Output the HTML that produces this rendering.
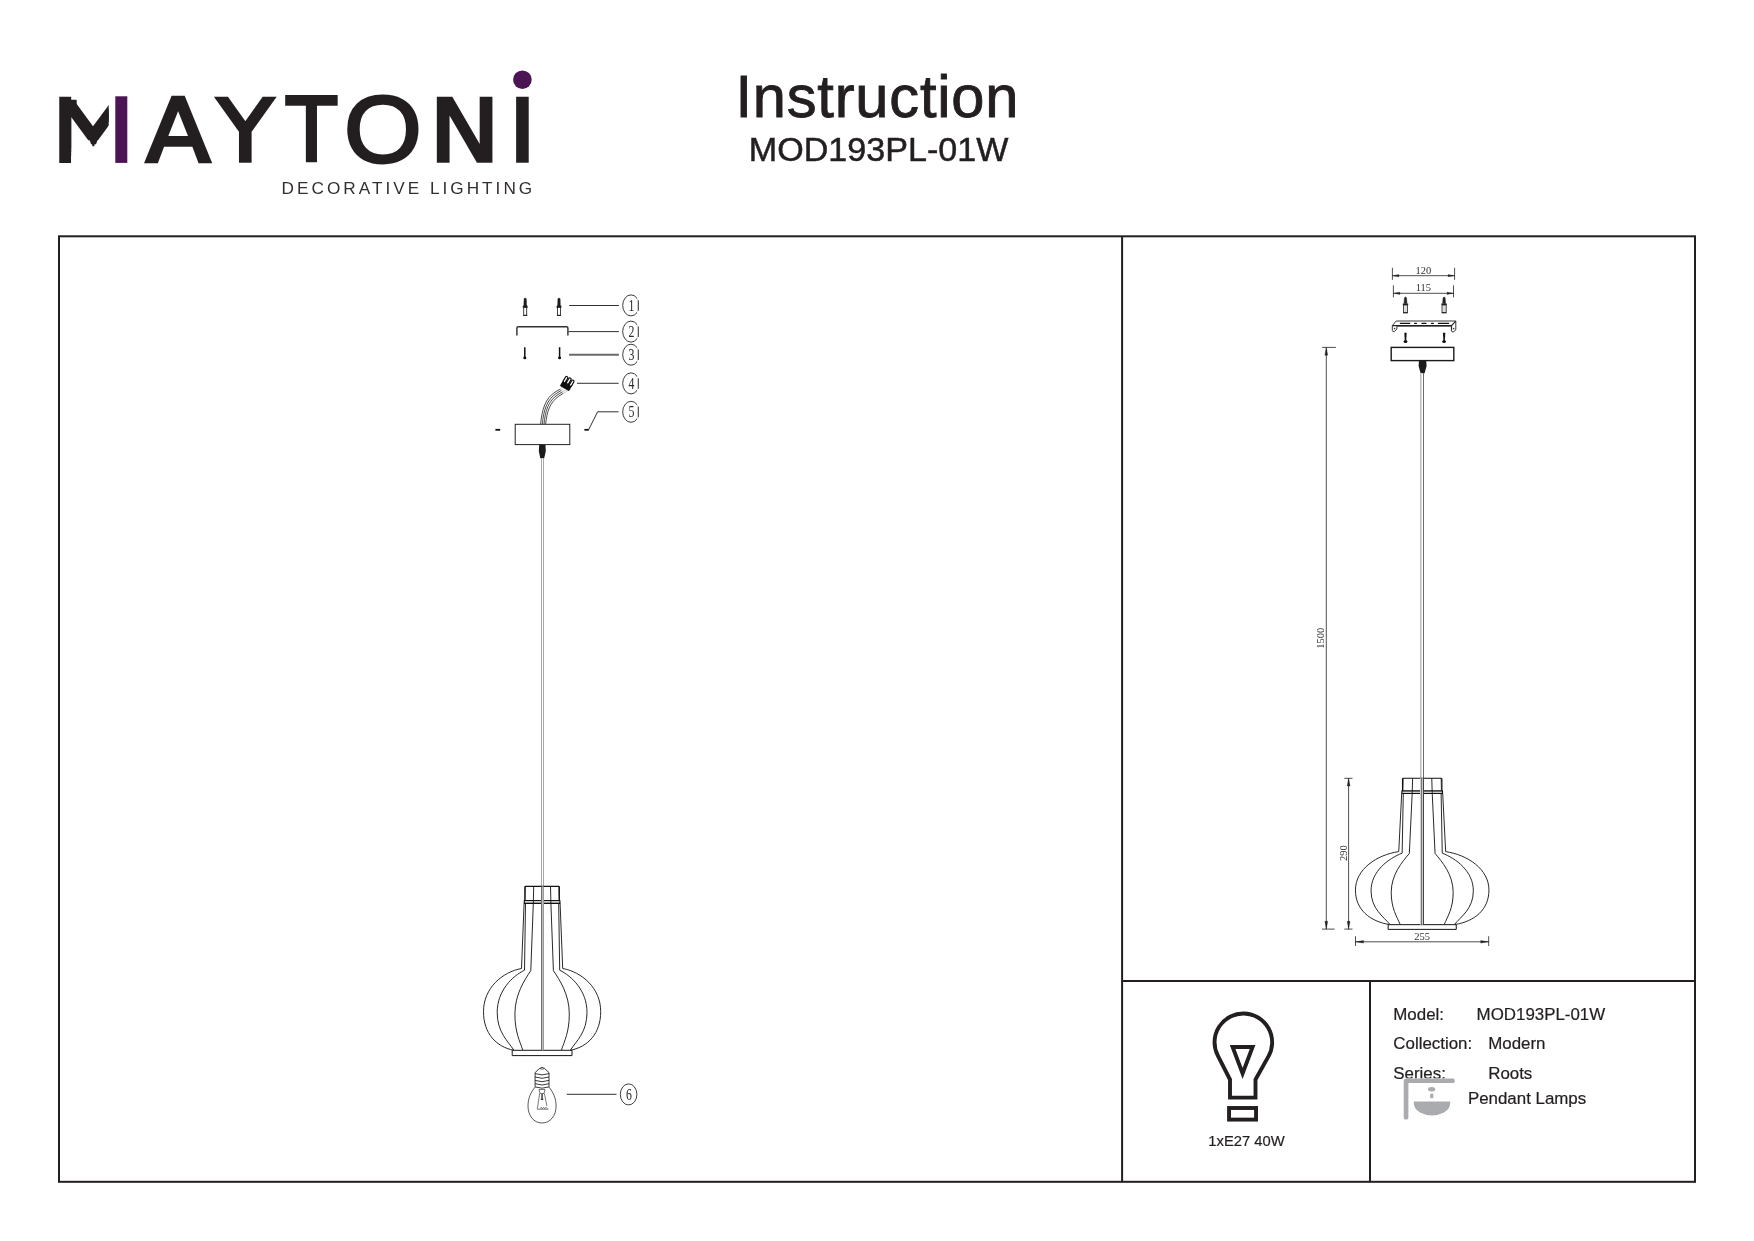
<!DOCTYPE html>
<html lang="en">
<head>
<meta charset="utf-8">
<title>Instruction MOD193PL-01W</title>
<style>
html,body{margin:0;padding:0;background:#fff;}
body{width:1754px;height:1241px;overflow:hidden;position:relative;font-family:'Liberation Sans', sans-serif;}
svg{position:absolute;left:0;top:0;display:block;will-change:transform;}
text{white-space:pre;}
</style>
</head>
<body>
<svg width="1754" height="1241" viewBox="0 0 1754 1241">
<g fill="none" stroke="#231f20" stroke-width="2">
<rect x="59" y="236.3" width="1636" height="945.5"/>
<line x1="1122.1" y1="236.3" x2="1122.1" y2="1181.8"/>
<line x1="1122.1" y1="980.9" x2="1695" y2="980.9"/>
<line x1="1370" y1="980.9" x2="1370" y2="1181.8"/>
</g>
<text x="735.4" y="117.3" font-family="'Liberation Sans', sans-serif" font-size="59.6" fill="#231f20" stroke="#231f20" stroke-width="0.9" textLength="283" lengthAdjust="spacing">Instruction</text>
<text x="878.6" y="160.8" text-anchor="middle" font-family="'Liberation Sans', sans-serif" font-size="34.1" fill="#231f20" stroke="#231f20" stroke-width="0.5">MOD193PL-01W</text>
<defs><clipPath id="mclipA"><rect x="58" y="90" width="13.2" height="80"/></clipPath><clipPath id="mclipC"><rect x="70" y="96.3" width="6.7" height="20"/></clipPath><clipPath id="mclipE"><rect x="90" y="136" width="7" height="12"/></clipPath><clipPath id="mclipD"><rect x="88.2" y="136" width="10.6" height="12"/></clipPath><clipPath id="mclipB"><rect x="70" y="96.3" width="38.7" height="66.6"/></clipPath></defs>
<g id="logo" role="img" aria-label="MAYTONI DECORATIVE LIGHTING"><title>MAYTONI DECORATIVE LIGHTING</title>
<g clip-path="url(#mclipA)"><text transform="translate(53.75 162.9) scale(1.31 0.91)" font-family="'DejaVu Sans Mono', monospace" font-size="100" fill="#231f20">M</text></g>
<g clip-path="url(#mclipB)" aria-hidden="true"><text transform="translate(53.75 147.80) scale(1.31 0.61)" font-family="'DejaVu Sans Mono', monospace" font-size="100" fill="#231f20">M</text></g>
<g clip-path="url(#mclipB)" aria-hidden="true"><text transform="translate(53.75 151.70) scale(1.31 0.61)" font-family="'DejaVu Sans Mono', monospace" font-size="100" fill="#231f20">M</text></g>
<g clip-path="url(#mclipB)" aria-hidden="true"><text transform="translate(53.75 155.60) scale(1.31 0.61)" font-family="'DejaVu Sans Mono', monospace" font-size="100" fill="#231f20">M</text></g>
<g clip-path="url(#mclipC)" aria-hidden="true"><text transform="translate(53.75 144.15) scale(1.31 0.61)" font-family="'DejaVu Sans Mono', monospace" font-size="100" fill="#231f20">M</text></g>
<g clip-path="url(#mclipD)" aria-hidden="true"><text transform="translate(73.76 159.64) scale(0.66 0.61)" font-family="'DejaVu Sans Mono', monospace" font-size="100" fill="#231f20">M</text></g>
<g clip-path="url(#mclipE)" aria-hidden="true"><text transform="translate(85.61 161.84) scale(0.26 0.61)" font-family="'DejaVu Sans Mono', monospace" font-size="100" fill="#231f20">M</text></g>
<g><text transform="translate(145.99 161.16) scale(0.94 0.87)" font-family="'DejaVu Sans', sans-serif" font-weight="normal" font-size="100" fill="#231f20" stroke="#231f20" stroke-width="4.0" stroke-linejoin="miter">A</text></g>
<g><text transform="translate(217.53 161.17) scale(0.91 0.86)" font-family="'DejaVu Sans', sans-serif" font-weight="normal" font-size="100" fill="#231f20" stroke="#231f20" stroke-width="4.0" stroke-linejoin="miter">Y</text></g>
<g><text transform="translate(286.91 161.16) scale(0.8 0.87)" font-family="'DejaVu Sans', sans-serif" font-weight="normal" font-size="100" fill="#231f20" stroke="#231f20" stroke-width="4.0" stroke-linejoin="miter">T</text></g>
<g><text transform="translate(344.0 162.24) scale(1.0 0.94)" font-family="'Liberation Sans', sans-serif" font-weight="normal" font-size="100" fill="#231f20" stroke="#231f20" stroke-width="3.0" stroke-linejoin="miter">O</text></g>
<g><text transform="translate(429.45 161.17) scale(0.94 0.86)" font-family="'DejaVu Sans', sans-serif" font-weight="normal" font-size="100" fill="#231f20" stroke="#231f20" stroke-width="4.0" stroke-linejoin="miter">N</text></g>
<g><text transform="translate(509.01 161.17) scale(0.91 0.86)" font-family="'DejaVu Sans', sans-serif" font-weight="normal" font-size="100" fill="#231f20" stroke="#231f20" stroke-width="4.0" stroke-linejoin="miter">I</text></g>
<rect x="115.3" y="96.3" width="12" height="66.6" fill="#4a1552"/>
<circle cx="522.4" cy="79.7" r="9.3" fill="#4a1552"/>
<text x="281.6" y="193.6" font-family="'Liberation Sans', sans-serif" font-size="17.2" fill="#332f30" textLength="250.6" lengthAdjust="spacing">DECORATIVE LIGHTING</text>
</g>
<g id="leftdraw">
<defs><clipPath id="lclip"><rect x="470" y="280" width="167.2" height="160"/></clipPath></defs>
<g clip-path="url(#lclip)">
<ellipse cx="631.0" cy="305.4" rx="8.3" ry="10.5" fill="none" stroke="#1a1a1a" stroke-width="0.85"/><text transform="translate(631.35 310.8) scale(0.72 1)" text-anchor="middle" font-family="'Liberation Serif', serif" font-size="16.4" fill="#2a2a2a">1</text>
<ellipse cx="631.0" cy="331.6" rx="8.3" ry="10.5" fill="none" stroke="#1a1a1a" stroke-width="0.85"/><text transform="translate(631.35 337.0) scale(0.72 1)" text-anchor="middle" font-family="'Liberation Serif', serif" font-size="16.4" fill="#2a2a2a">2</text>
<ellipse cx="631.0" cy="354.7" rx="8.3" ry="10.5" fill="none" stroke="#1a1a1a" stroke-width="0.85"/><text transform="translate(631.35 360.1) scale(0.72 1)" text-anchor="middle" font-family="'Liberation Serif', serif" font-size="16.4" fill="#2a2a2a">3</text>
<ellipse cx="631.0" cy="383.4" rx="8.3" ry="10.5" fill="none" stroke="#1a1a1a" stroke-width="0.85"/><text transform="translate(631.35 388.8) scale(0.72 1)" text-anchor="middle" font-family="'Liberation Serif', serif" font-size="16.4" fill="#2a2a2a">4</text>
<ellipse cx="631.0" cy="411.8" rx="8.3" ry="10.5" fill="none" stroke="#1a1a1a" stroke-width="0.85"/><text transform="translate(631.35 417.2) scale(0.72 1)" text-anchor="middle" font-family="'Liberation Serif', serif" font-size="16.4" fill="#2a2a2a">5</text>
</g>
<line x1="638.3" y1="300.2" x2="638.3" y2="310.8" stroke="#3a3a3a" stroke-width="1.1"/>
<line x1="638.3" y1="326.4" x2="638.3" y2="337.0" stroke="#3a3a3a" stroke-width="1.1"/>
<line x1="638.3" y1="349.5" x2="638.3" y2="360.1" stroke="#3a3a3a" stroke-width="1.1"/>
<line x1="638.3" y1="378.2" x2="638.3" y2="388.8" stroke="#3a3a3a" stroke-width="1.1"/>
<line x1="638.3" y1="406.6" x2="638.3" y2="417.2" stroke="#3a3a3a" stroke-width="1.1"/>
<g stroke="#1a1a1a" stroke-width="0.9" fill="none">
<line x1="569.1" y1="305.5" x2="618.9" y2="305.5"/>
<line x1="568.4" y1="331.6" x2="618.9" y2="331.6"/>
<line x1="577" y1="383.3" x2="618.6" y2="383.3"/>
<polyline points="588.6,429.8 597.6,411.8 618.6,411.8"/>
<line x1="566.7" y1="1094.3" x2="616.5" y2="1094.3"/>
</g>
<line x1="569.1" y1="354.7" x2="618.9" y2="354.7" stroke="#6a6a6a" stroke-width="2"/>
<path d="M524.05 298.8 Q525.2 297.1 526.35 298.8 L526.55 304.86 L527.5 306.66 L527.5 307.46 L522.9 307.46 L522.9 306.66 L523.85 304.86 Z" fill="#1c1c1c" stroke="#1c1c1c" stroke-width="0.4"/><rect x="523.7" y="307.46" width="3.0" height="7.84" fill="#fff" stroke="#222" stroke-width="0.85"/><line x1="523.1" y1="315.4" x2="527.3" y2="315.4" stroke="#222" stroke-width="1"/>
<path d="M557.85 298.8 Q559.0 297.1 560.15 298.8 L560.35 304.86 L561.3 306.66 L561.3 307.46 L556.7 307.46 L556.7 306.66 L557.65 304.86 Z" fill="#1c1c1c" stroke="#1c1c1c" stroke-width="0.4"/><rect x="557.5" y="307.46" width="3.0" height="7.84" fill="#fff" stroke="#222" stroke-width="0.85"/><line x1="556.9" y1="315.4" x2="561.1" y2="315.4" stroke="#222" stroke-width="1"/>
<path d="M516.9 335.6 V328 Q516.9 326.7 518.2 326.7 H566.6 Q567.9 326.7 567.9 328 V335.6" fill="none" stroke="#333" stroke-width="1.45"/>
<line x1="524.8" y1="347.2" x2="524.8" y2="357.9" stroke="#111" stroke-width="1.5"/><ellipse cx="524.8" cy="357.9" rx="1.55" ry="1.4" fill="#111"/>
<line x1="559.6" y1="347.2" x2="559.6" y2="357.9" stroke="#111" stroke-width="1.5"/><ellipse cx="559.6" cy="357.9" rx="1.55" ry="1.4" fill="#111"/>
<g fill="none" stroke="#222" stroke-width="0.8">
<path d="M540.6 424.2 C542 410 545 398 556 391.5 L560.5 389"/>
<path d="M542.3 424.2 C543.7 410.5 546.5 399.5 557 393 L561.5 390.3"/>
<path d="M544 424.2 C545.3 411 548 401 558 394.5 L562.5 391.8"/>
<path d="M545.6 424.2 C547 412 549.5 402.5 559 396 L563.5 393.2"/>
</g>
<g fill="none" stroke="#b5b5b5" stroke-width="0.7">
<path d="M560.5 389 L563.2 385.2"/><path d="M561.5 390.3 L565.2 387.6"/><path d="M562.5 391.8 L566.6 389.6"/><path d="M563.5 393.2 L568 390.4"/>
</g>
<g transform="translate(567.3 383.6) rotate(30)">
<rect x="-5.3" y="-2.4" width="10.6" height="8.2" rx="0.8" fill="#0c0c0c"/>
<rect x="-4.8" y="-5.87" width="2.5" height="6.6" rx="1.1" fill="#fff" stroke="#0c0c0c" stroke-width="1.15"/>
<rect x="-1.25" y="-6.3" width="2.5" height="6.6" rx="1.1" fill="#fff" stroke="#0c0c0c" stroke-width="1.15"/>
<rect x="2.3" y="-5.87" width="2.5" height="6.6" rx="1.1" fill="#fff" stroke="#0c0c0c" stroke-width="1.15"/>
</g>
<rect x="515.2" y="424.3" width="54.6" height="20.3" fill="#fff" stroke="#222" stroke-width="1"/>
<line x1="495.4" y1="429.8" x2="500.2" y2="429.8" stroke="#111" stroke-width="1.8"/>
<line x1="584.4" y1="429.8" x2="588.8" y2="429.8" stroke="#111" stroke-width="1.8"/>
<path d="M539.2 444.8 H545.4 L545.8 451 L544.2 458.3 H540.3 L538.8 451 Z" fill="#1a1a1a"/>
<g fill="#a8a8a8">
<rect x="541" y="458" width="1" height="428.4"/>
<rect x="543" y="458" width="1" height="428.4"/>
</g>
</g>
<g fill="none" stroke="#111" stroke-width="0.9" stroke-linejoin="round">
<path d="M524.80 900.50 L524.80 887.20 Q524.80 886.40 525.60 886.40 L558.60 886.40 Q559.40 886.40 559.40 887.20 L559.40 900.50" stroke-width="1.12"/>
<path d="M525.50 886.70 L525.20 900.50 M558.70 886.70 L559.00 900.50" stroke-width="0.72"/>
<rect x="524.30" y="900.50" width="35.60" height="2.90" stroke-width="1.17" fill="#ccc"/>
<path d="M533.70 886.40 L533.30 903.40 L530.80 970.60 C524.80 979.60 514.90 994.10 514.90 1014.10 C514.90 1032.10 519.80 1041.10 522.80 1050.20"/>
<path d="M525.50 903.40 L524.50 970.20 C512.50 976.20 497.20 990.40 497.20 1012.40 C497.20 1032.40 507.90 1041.10 513.90 1050.20"/>
<path d="M524.10 903.40 L521.50 968.50 C502.50 972.00 483.50 987.90 483.50 1011.60 C483.50 1033.40 496.10 1046.70 513.50 1050.20"/>
<path d="M550.50 886.40 L550.90 903.40 L553.40 970.60 C559.40 979.60 569.30 994.10 569.30 1014.10 C569.30 1032.10 564.40 1041.10 561.40 1050.20"/>
<path d="M558.70 903.40 L559.70 970.20 C571.70 976.20 587.00 990.40 587.00 1012.40 C587.00 1032.40 576.30 1041.10 570.30 1050.20"/>
<path d="M560.10 903.40 L562.70 968.50 C581.70 972.00 600.70 987.90 600.70 1011.60 C600.70 1033.40 588.10 1046.70 570.70 1050.20"/>
<rect x="512.20" y="1050.30" width="59.80" height="5.30" fill="#fff" stroke-width="0.99"/>
</g>
<rect x="541" y="886.40" width="1" height="163.90" fill="#707070"/>
<rect x="542" y="886.40" width="1" height="163.90" fill="#bcbcbc"/>
<rect x="543" y="886.40" width="1" height="163.90" fill="#9a9a9a"/>
<g id="bulb6" fill="none" stroke="#222" stroke-width="0.75">
<path d="M535.2 1087 C531 1092 528 1098 528 1106 C528 1116 534 1123 542.05 1123 C550.1 1123 556.1 1116 556.1 1106 C556.1 1098 553 1092 548.9 1087"/>
<path d="M535.1 1086.8 V1072.6 L539.6 1068.4 Q542.05 1066.4 544.5 1068.4 L549 1072.6 V1086.8" fill="#fff" stroke-width="0.9"/>
<path d="M535.1 1073.6 Q542.05 1076.2 549 1073.6" stroke-width="0.9"/>
<path d="M535.1 1077 Q542.05 1079.6 549 1077" stroke-width="0.9"/>
<path d="M535.1 1080.4 Q542.05 1083.0 549 1080.4" stroke-width="0.9"/>
<path d="M535.1 1083.7 Q542.05 1086.3 549 1083.7" stroke-width="0.9"/>
<path d="M535.1 1086.9 Q542.05 1089.5 549 1086.9" stroke-width="0.9"/>
<path d="M539.6 1068.6 Q542.05 1069.8 544.5 1068.6" stroke-width="0.7"/>
<path d="M539 1089.5 H545 L544 1093.5 H540 Z" stroke-width="0.6"/>
<path d="M539.6 1093.5 L537.3 1109.2 H548.6 M544.4 1093.5 L546.9 1106" stroke-width="0.6"/>
<path d="M540 1108.8 l1.2 -1.6 l1.2 1.6 l1.2 -1.6 l1.2 1.6 l1.2 -1.6 l1.2 1.6" stroke-width="0.5"/>
<line x1="542.05" y1="1094" x2="542.05" y2="1099.4" stroke-width="1.3"/>
<line x1="540.8" y1="1099.4" x2="543.3" y2="1099.4" stroke-width="1"/>
</g>
<ellipse cx="628.6" cy="1094.4" rx="8.3" ry="10.5" fill="none" stroke="#1a1a1a" stroke-width="0.85"/><text transform="translate(628.95 1099.8) scale(0.72 1)" text-anchor="middle" font-family="'Liberation Serif', serif" font-size="16.4" fill="#2a2a2a">6</text>
<g id="rightdraw">
<g stroke="#222" stroke-width="0.8"><line x1="1392.4" y1="267.8" x2="1392.4" y2="279.8"/><line x1="1454.6" y1="267.8" x2="1454.6" y2="279.8"/>
<line x1="1393.4" y1="285.3" x2="1393.4" y2="297.4"/><line x1="1453.5" y1="285.3" x2="1453.5" y2="297.4"/></g>
<line x1="1392.4" y1="275.7" x2="1454.6" y2="275.7" stroke="#222" stroke-width="0.8"/><path d="M1392.4 275.7 L1398.9 274.55 L1398.9 276.85 Z M1454.6 275.7 L1448.1 274.55 L1448.1 276.85 Z" fill="#222" stroke="#222" stroke-width="0.3"/>
<line x1="1393.4" y1="293.3" x2="1453.5" y2="293.3" stroke="#222" stroke-width="0.8"/><path d="M1393.4 293.3 L1399.9 292.15 L1399.9 294.45 Z M1453.5 293.3 L1447.0 292.15 L1447.0 294.45 Z" fill="#222" stroke="#222" stroke-width="0.3"/>
<text transform="translate(1423.4 274.0) scale(0.94 1)" text-anchor="middle" font-family="'Liberation Serif', serif" font-size="11.2" fill="#333">120</text>
<text transform="translate(1423.4 291.0) scale(0.94 1)" text-anchor="middle" font-family="'Liberation Serif', serif" font-size="11.2" fill="#333">115</text>
<path d="M1404.5 297.7 Q1405.5 296.4 1406.5 297.7 L1407.0 303.5 L1404.0 303.5 Z" fill="#222" stroke="#222" stroke-width="0.5"/><rect x="1402.8" y="303.5" width="5.4" height="1.5" fill="#222"/><rect x="1403.4" y="305.0" width="4.2" height="7.5" fill="#ddd" stroke="#222" stroke-width="0.8"/><line x1="1403.1" y1="312.8" x2="1407.9" y2="312.8" stroke="#222" stroke-width="1.1"/>
<path d="M1443.1 297.7 Q1444.1 296.4 1445.1 297.7 L1445.6 303.5 L1442.6 303.5 Z" fill="#222" stroke="#222" stroke-width="0.5"/><rect x="1441.4" y="303.5" width="5.4" height="1.5" fill="#222"/><rect x="1442.0" y="305.0" width="4.2" height="7.5" fill="#ddd" stroke="#222" stroke-width="0.8"/><line x1="1441.7" y1="312.8" x2="1446.5" y2="312.8" stroke="#222" stroke-width="1.1"/>
<g fill="#fff" stroke="#222" stroke-width="0.9" stroke-linejoin="round">
<path d="M1392.3 325.6 L1396.2 321 H1455.8 V330 L1453.3 331.9 Q1451.6 332.3 1451.4 330.6 V326.1 H1396.9 V329 L1394.4 331.6 Q1392.5 332.2 1392.3 330.4 Z"/>
<path d="M1392.3 325.6 H1451.6 L1455.8 321.2" fill="none" stroke-width="1.2"/>
<path d="M1451.6 325.6 V330.6" fill="none"/>
</g>
<g stroke="#111" stroke-width="1.2" stroke-linecap="round"><line x1="1400.4" y1="323.4" x2="1409.8" y2="323.4"/><line x1="1438.4" y1="323.4" x2="1448.6" y2="323.4"/>
<line x1="1414.6" y1="323.4" x2="1416.4" y2="323.4"/><line x1="1431.5" y1="323.4" x2="1433.3" y2="323.4"/><line x1="1422" y1="323.4" x2="1426" y2="323.4"/></g>
<circle cx="1394.6" cy="328.6" r="0.8" fill="#333"/><circle cx="1453.7" cy="328.6" r="0.8" fill="#333"/>
<path d="M1404.3 332.8 H1406.7 L1406.2 340.7 H1404.8 Z" fill="#111"/><ellipse cx="1405.5" cy="341.5" rx="1.9" ry="1.5" fill="#111"/>
<path d="M1442.9 332.8 H1445.3 L1444.8 340.7 H1443.4 Z" fill="#111"/><ellipse cx="1444.1" cy="341.5" rx="1.9" ry="1.5" fill="#111"/>
<rect x="1391.2" y="347.4" width="62.6" height="13.2" fill="#fff" stroke="#1a1a1a" stroke-width="1.4"/>
<path d="M1419 360.8 H1426.2 L1426.6 366 L1424.6 373.2 H1420.6 L1418.6 366 Z" fill="#1a1a1a"/>
<rect x="1420" y="373" width="1" height="405.3" fill="#bcbcbc"/><rect x="1421" y="373" width="1" height="405.3" fill="#dcdcdc"/><rect x="1423" y="373" width="1" height="405.3" fill="#6b6b6b"/>
<g fill="none" stroke="#111" stroke-width="0.9" stroke-linejoin="round">
<path d="M1402.50 790.89 L1402.50 779.01 Q1402.50 778.30 1403.41 778.30 L1440.99 778.30 Q1441.90 778.30 1441.90 779.01 L1441.90 790.89" stroke-width="1.12"/>
<path d="M1403.29 778.57 L1402.95 790.89 M1441.11 778.57 L1441.45 790.89" stroke-width="0.72"/>
<rect x="1401.93" y="790.89" width="40.55" height="2.59" stroke-width="1.17" fill="#ccc"/>
<path d="M1412.63 778.30 L1412.18 793.48 L1409.33 853.49 C1402.50 861.53 1391.22 874.48 1391.22 892.34 C1391.22 908.41 1396.80 916.45 1400.22 924.57"/>
<path d="M1403.29 793.48 L1402.15 853.13 C1388.49 858.49 1371.06 871.17 1371.06 890.82 C1371.06 908.68 1383.25 916.45 1390.08 924.57"/>
<path d="M1401.70 793.48 L1398.74 851.62 C1377.10 854.74 1355.45 868.94 1355.45 890.10 C1355.45 909.57 1369.81 921.45 1389.62 924.57"/>
<path d="M1431.77 778.30 L1432.22 793.48 L1435.07 853.49 C1441.90 861.53 1453.18 874.48 1453.18 892.34 C1453.18 908.41 1447.60 916.45 1444.18 924.57"/>
<path d="M1441.11 793.48 L1442.25 853.13 C1455.91 858.49 1473.34 871.17 1473.34 890.82 C1473.34 908.68 1461.15 916.45 1454.32 924.57"/>
<path d="M1442.70 793.48 L1445.66 851.62 C1467.30 854.74 1488.95 868.94 1488.95 890.10 C1488.95 909.57 1474.59 921.45 1454.78 924.57"/>
<rect x="1388.14" y="924.66" width="68.11" height="4.73" fill="#fff" stroke-width="0.99"/>
</g>
<rect x="1420" y="778.30" width="1" height="146.36" fill="#cfcfcf"/>
<rect x="1421" y="778.30" width="1" height="146.36" fill="#787878"/>
<rect x="1422" y="778.30" width="1" height="146.36" fill="#cacaca"/>
<rect x="1423" y="778.30" width="1" height="146.36" fill="#444"/>
<g stroke="#222" stroke-width="0.8"><line x1="1322.2" y1="347.4" x2="1335.9" y2="347.4"/><line x1="1322" y1="929.1" x2="1334.7" y2="929.1"/>
<line x1="1344.3" y1="778.3" x2="1352.5" y2="778.3"/><line x1="1344.3" y1="929.1" x2="1352.5" y2="929.1"/>
<line x1="1355.5" y1="936.2" x2="1355.5" y2="946"/><line x1="1488.7" y1="936.2" x2="1488.7" y2="946"/></g>
<line x1="1326.3" y1="347.4" x2="1326.3" y2="929.1" stroke="#222" stroke-width="0.8"/><path d="M1326.3 347.4 L1324.85 355.2 L1327.75 355.2 Z M1326.3 929.1 L1324.85 921.3 L1327.75 921.3 Z" fill="#222" stroke="#222" stroke-width="0.3"/>
<line x1="1348.6" y1="778.3" x2="1348.6" y2="929.1" stroke="#222" stroke-width="0.8"/><path d="M1348.6 778.3 L1347.15 786.1 L1350.05 786.1 Z M1348.6 929.1 L1347.15 921.3 L1350.05 921.3 Z" fill="#222" stroke="#222" stroke-width="0.3"/>
<line x1="1355.5" y1="941.8" x2="1488.7" y2="941.8" stroke="#222" stroke-width="0.8"/><path d="M1355.5 941.8 L1363.5 940.5 L1363.5 943.1 Z M1488.7 941.8 L1480.7 940.5 L1480.7 943.1 Z" fill="#222" stroke="#222" stroke-width="0.3"/>
<text transform="translate(1324.2 638.3) rotate(-90) scale(0.94 1)" text-anchor="middle" font-family="'Liberation Serif', serif" font-size="11.2" fill="#333">1500</text>
<text transform="translate(1346.5 853.2) rotate(-90) scale(0.94 1)" text-anchor="middle" font-family="'Liberation Serif', serif" font-size="11.2" fill="#333">290</text>
<text transform="translate(1422.2 939.6) scale(0.94 1)" text-anchor="middle" font-family="'Liberation Serif', serif" font-size="11.2" fill="#333">255</text>
</g>
<g id="bulbicon" fill="none" stroke="#231f20" stroke-linejoin="miter">
<path d="M1230 1097.6 V1079.5 L1217.70 1055.39 A28.8 28.8 0 1 1 1268.47 1056.39 L1255.5 1079.5 V1097.6 Z" stroke-width="3.9"/>
<path d="M1232.6 1047 H1252.6 L1242.6 1073.5 Z" stroke-width="3.9" stroke-miterlimit="10"/>
<rect x="1229.05" y="1108" width="27" height="11.6" stroke-width="3.9"/>
</g>
<text x="1208.3" y="1146.4" font-family="'Liberation Sans', sans-serif" font-size="15.3" fill="#231f20" stroke="#231f20" stroke-width="0.2" textLength="76.4" lengthAdjust="spacingAndGlyphs">1xE27 40W</text>
<g font-family="'Liberation Sans', sans-serif" font-size="16.9" fill="#231f20" stroke="#231f20" stroke-width="0.22">
<text x="1393.3" y="1019.6">Model:</text>
<text x="1476.6" y="1019.6">MOD193PL-01W</text>
<text x="1393.3" y="1049.4">Collection:</text>
<text x="1488.2" y="1049.4">Modern</text>
<text x="1393.3" y="1078.5">Series:</text>
<text x="1488.2" y="1078.5">Roots</text>
</g>
<rect x="1403.7" y="1078.4" width="52" height="42" fill="#fff"/>
<g fill="#a9abae">
<path d="M1403.7 1081.5 Q1403.7 1078.5 1406.7 1078.5 H1453.2 Q1454.7 1078.5 1454.7 1080 V1081.6 Q1454.7 1083.1 1453.2 1083.1 H1408.4 V1117.4 Q1408.4 1119.6 1406.05 1119.6 Q1403.7 1119.6 1403.7 1117.4 Z"/>
<ellipse cx="1431.6" cy="1089.2" rx="3.6" ry="2.2"/>
<rect x="1430.2" y="1093.7" width="3.1" height="4.5"/>
<path d="M1413.7 1101.6 H1450.3 Q1450.6 1109 1444 1112.6 Q1438 1115.6 1432 1115.6 Q1426 1115.6 1420 1112.6 Q1413.4 1109 1413.7 1101.6 Z"/>
</g>
<text x="1467.9" y="1103.9" font-family="'Liberation Sans', sans-serif" font-size="16.9" fill="#231f20" stroke="#231f20" stroke-width="0.22">Pendant Lamps</text>
</svg>
</body>
</html>
